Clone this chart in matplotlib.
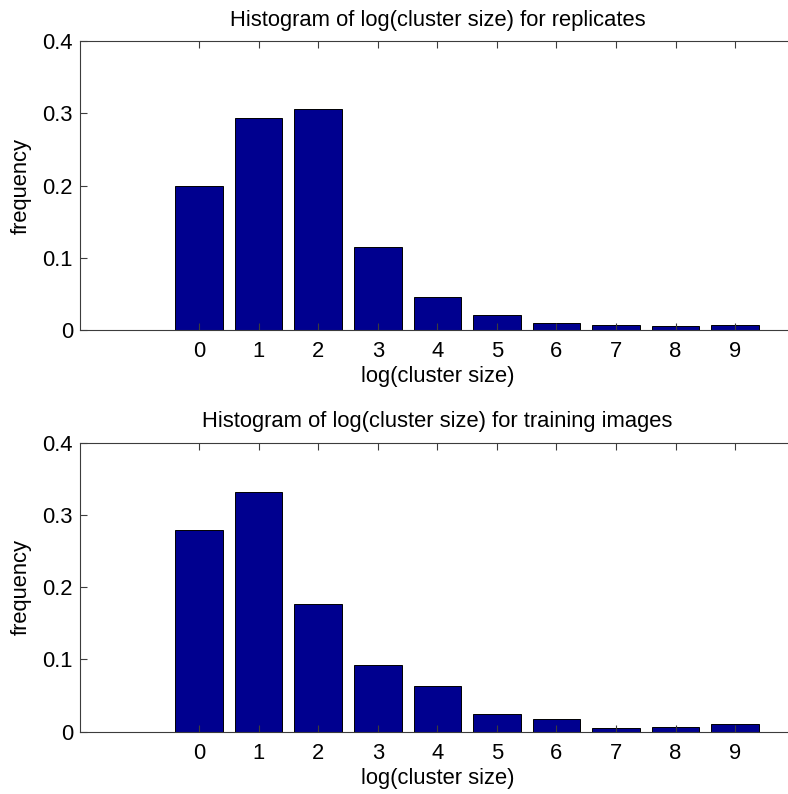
import matplotlib
matplotlib.use("Agg")
import matplotlib.pyplot as plt

bins = [0, 1, 2, 3, 4, 5, 6, 7, 8, 9]
replicates = [0.200, 0.293, 0.306, 0.115, 0.0455, 0.0205, 0.0095, 0.0065, 0.0055, 0.007]
training = [0.279, 0.332, 0.177, 0.092, 0.063, 0.0245, 0.018, 0.0055, 0.0065, 0.0105]
yticks = [0, 0.1, 0.2, 0.3, 0.4]
ytick_labels = ["0", "0.1", "0.2", "0.3", "0.4"]
titles = ["Histogram of log(cluster size) for replicates",
          "Histogram of log(cluster size) for training images"]

plt.rcParams['font.family'] = ['Liberation Sans', 'DejaVu Sans']
FS = 15.8
W, H = 788, 794
fig = plt.figure(figsize=(W / 100, H / 100), dpi=100)

left = 80 / W
width = 714.7 / W
axh = 289 / H
positions = [(left, 1 - 330 / H, width, axh), (left, 1 - 731.7 / H, width, axh)]
spine_col = '#3c3c3c'

for pos, data, title in zip(positions, [replicates, training], titles):
    ax = fig.add_axes(pos)
    ax.bar(bins, data, width=0.8, color='#00008F', edgecolor='black', linewidth=0.7)
    ax.set_xlim(-2, 10)
    ax.set_ylim(0, 0.4)
    ax.set_xticks(bins)
    ax.set_xticklabels([str(b) for b in bins])
    ax.set_yticks(yticks)
    ax.set_yticklabels(ytick_labels)
    ax.tick_params(direction='in', length=5, width=0.8, color=spine_col,
                   top=True, right=True, labelsize=FS)
    ax.tick_params(axis='x', pad=8)
    ax.tick_params(axis='y', pad=5)
    for s in ax.spines.values():
        s.set_color(spine_col)
        s.set_linewidth(0.8)
    ax.set_title(title, fontsize=FS, pad=11)
    ax.set_xlabel('log(cluster size)', fontsize=FS, labelpad=3)
    ax.set_ylabel('frequency', fontsize=FS, labelpad=8)

fig.savefig('out.png', dpi=100)
